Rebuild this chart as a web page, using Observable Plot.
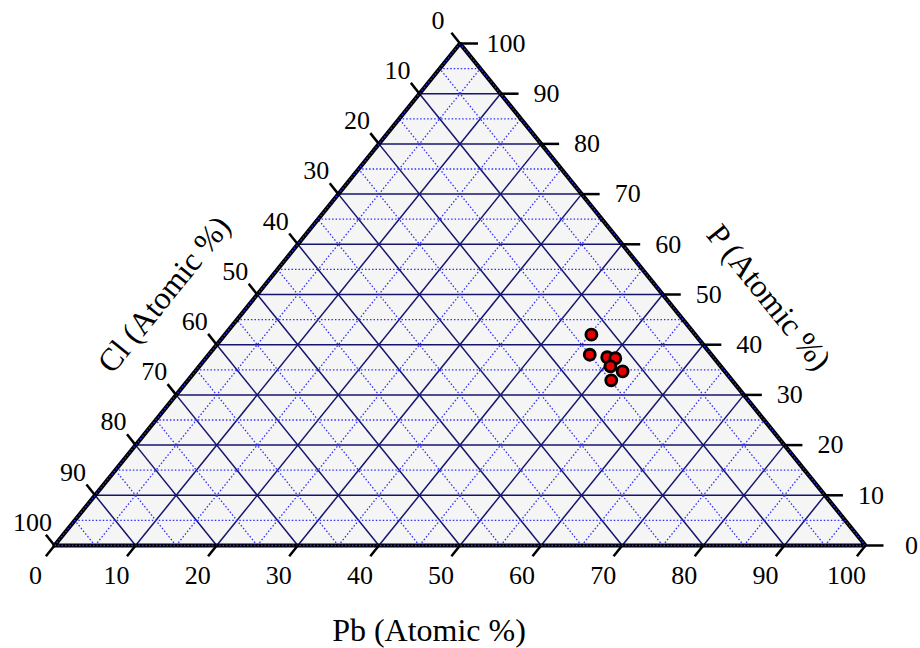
<!DOCTYPE html>
<html><head><meta charset="utf-8">
<script src="https://cdn.jsdelivr.net/npm/d3@7"></script>
<script src="https://cdn.jsdelivr.net/npm/@observablehq/plot@0.6"></script>
<style>
body{margin:0;background:#fff;}
#chart svg{display:block;}
</style>
</head><body><div id="chart"></div>
<script>
// ---- data ----
const majorTicks = [0,10,20,30,40,50,60,70,80,90,100];
const minorLevels = [0,5,15,25,35,45,55,65,75,85,95];
const gridLevels = [10,20,30,40,50,60,70,80,90];
const samplePb = [45.2, 47.0, 49.4, 50.5, 50.7, 52.7, 52.2];
const sampleP  = [42.0, 38.0, 37.5, 37.3, 35.7, 34.7, 32.9];
const sampleCl = [12.8, 15.0, 13.1, 12.2, 13.6, 12.6, 14.9];
const axisTitles = ["Pb (Atomic %)", "Cl (Atomic %)", "P (Atomic %)"];

// ---- layout ----
const W = 920, H = 648;
const X0 = 54, X1 = 865, YT = 43, YB = 545;
const kx = (X1 - X0) / 100, ky = (YB - YT) / 100;
const FONT = "Liberation Serif";

// ternary (pb, p) -> cartesian
const cx = (pb, p) => pb + p / 2;
const cy = (pb, p) => p;

function familyLines(levels) {
  const out = [];
  for (const v of levels) {
    out.push({x1: cx(0, v), y1: cy(0, v), x2: cx(100 - v, v), y2: cy(100 - v, v)});      // constant P
    out.push({x1: cx(v, 0), y1: cy(v, 0), x2: cx(v, 100 - v), y2: cy(v, 100 - v)});      // constant Pb
    out.push({x1: cx(100 - v, 0), y1: 0, x2: cx(0, 100 - v), y2: cy(0, 100 - v)});       // constant Cl
  }
  return out;
}
const minorLines = familyLines(minorLevels);
const majorLines = familyLines(gridLevels);

const tri = [{x: 0, y: 0}, {x: 50, y: 100}, {x: 100, y: 0}];
const border = [{x: 0, y: 0}, {x: 50, y: 100}, {x: 100, y: 0}, {x: 0, y: 0}];

// tick offsets (pixel lengths converted to data units)
const bt = {dx: -8.6 / kx, dy: -10.8 / ky};
const rt = {dx: 18 / kx, dy: 0};
const lt = {dx: -8.6 / kx, dy: 10.8 / ky};

const bottomTicks = majorTicks.map(v => ({v, x: cx(v, 0), y: 0}));
const rightTicks = majorTicks.map(v => ({v, x: cx(100 - v, v), y: cy(100 - v, v)}));
const leftTicks = majorTicks.map(v => ({v, x: cx(0, 100 - v), y: cy(0, 100 - v)}));

const samples = samplePb.map((pb, i) => ({x: cx(pb, sampleP[i]), y: cy(pb, sampleP[i]), cl: sampleCl[i]}));

const edgeAngle = Math.atan2(YB - YT, (X1 - X0) / 2) * 180 / Math.PI;

const chart = Plot.plot({
  width: W, height: H,
  marginTop: 0, marginBottom: 0, marginLeft: 0, marginRight: 0,
  x: {domain: [0, 100], range: [X0, X1], axis: null},
  y: {domain: [0, 100], range: [YB, YT], axis: null},
  style: {fontFamily: FONT, background: "#fff"},
  marks: [
    Plot.areaY(tri, {x: "x", y: "y", fill: "#f5f5f5"}),
    Plot.link(majorLines, {x1: "x1", y1: "y1", x2: "x2", y2: "y2", stroke: "#15156e", strokeWidth: 1.5}),
    Plot.link(minorLines, {x1: "x1", y1: "y1", x2: "x2", y2: "y2", stroke: "#2f2fff", strokeWidth: 1.3, strokeDasharray: "1.5,2"}),
    Plot.line(border, {x: "x", y: "y", stroke: "#000", strokeWidth: 4.2, strokeLinejoin: "miter"}),
    Plot.link(minorLines.filter((d, i) => i < 3), {x1: "x1", y1: "y1", x2: "x2", y2: "y2", stroke: "#2f2fff", strokeWidth: 1.3, strokeDasharray: "1.5,2"}),
    // ticks
    Plot.link(bottomTicks, {x1: "x", y1: "y", x2: d => d.x + bt.dx, y2: d => d.y + bt.dy, stroke: "#000", strokeWidth: 2.5}),
    Plot.link(rightTicks, {x1: "x", y1: "y", x2: d => d.x + rt.dx, y2: d => d.y + rt.dy, stroke: "#000", strokeWidth: 2.5}),
    Plot.link(leftTicks, {x1: "x", y1: "y", x2: d => d.x + lt.dx, y2: d => d.y + lt.dy, stroke: "#000", strokeWidth: 2.5}),
    // tick labels
    Plot.text(bottomTicks, {x: "x", y: "y", text: d => String(d.v), dx: -19, dy: 30, fontSize: 26, fill: "#000"}),
    Plot.text(rightTicks, {x: "x", y: "y", text: d => String(d.v), dx: 46, dy: 0, fontSize: 26, fill: "#000"}),
    Plot.text(leftTicks, {x: "x", y: "y", text: d => String(d.v), dx: -22, dy: -23, fontSize: 26, fill: "#000"}),
    // axis titles
    Plot.text([{x: 50, y: 0}], {x: "x", y: "y", text: [axisTitles[0]], dx: -31, dy: 85, fontSize: 32, fill: "#000"}),
    Plot.text([{x: 25, y: 50}], {x: "x", y: "y", text: [axisTitles[1]], dx: -93, dy: 0, fontSize: 32, fill: "#000", rotate: -edgeAngle}),
    Plot.text([{x: 75, y: 50}], {x: "x", y: "y", text: [axisTitles[2]], dx: 106, dy: 3, fontSize: 32, fill: "#000", rotate: edgeAngle}),
    // samples
    Plot.dot(samples, {x: "x", y: "y", r: 5.5, fill: "#e80000", stroke: "#000", strokeWidth: 2.8})
  ]
});
document.getElementById("chart").appendChild(chart);
</script>
</body></html>
